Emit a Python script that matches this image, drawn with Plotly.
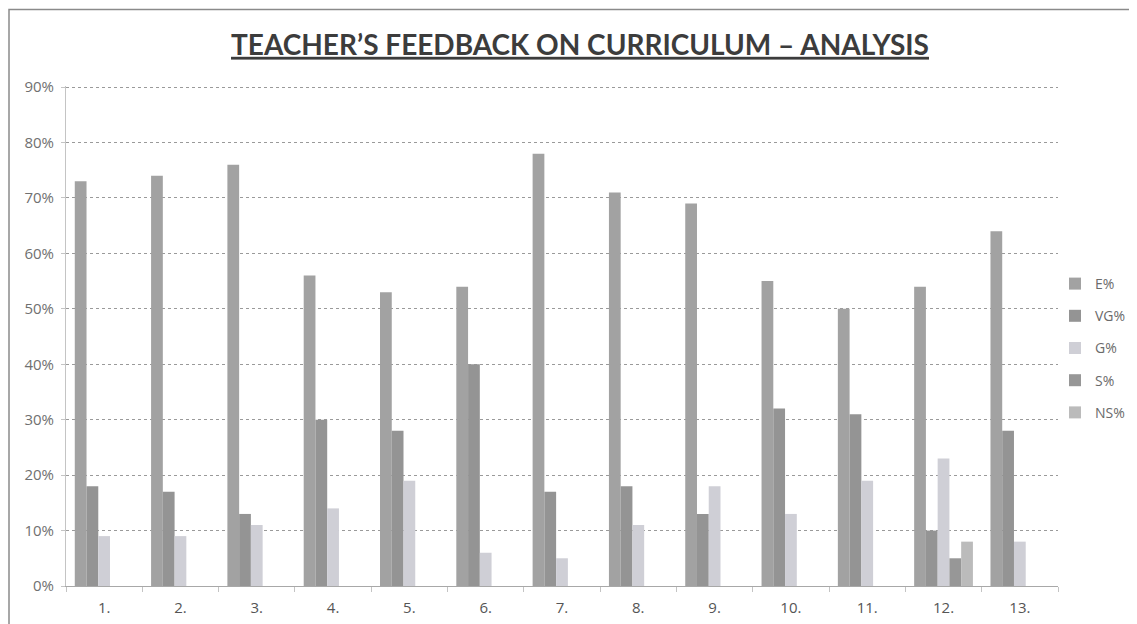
import plotly.graph_objects as go

categories = ["1.", "2.", "3.", "4.", "5.", "6.", "7.", "8.", "9.", "10.", "11.", "12.", "13."]
e_pct = [73, 74, 76, 56, 53, 54, 78, 71, 69, 55, 50, 54, 64]
vg_pct = [18, 17, 13, 30, 28, 40, 17, 18, 13, 32, 31, 10, 28]
g_pct = [9, 9, 11, 14, 19, 6, 5, 11, 18, 13, 19, 23, 8]
s_pct = [0, 0, 0, 0, 0, 0, 0, 0, 0, 0, 0, 5, 0]
ns_pct = [0, 0, 0, 0, 0, 0, 0, 0, 0, 0, 0, 8, 0]
series_names = ["E%", "VG%", "G%", "S%", "NS%"]
series_values = [e_pct, vg_pct, g_pct, s_pct, ns_pct]
colors = ["#a2a2a2", "#949494", "#cfcfd6", "#979797", "#bbbbbb"]

fig = go.Figure()
for name, vals, col in zip(series_names, series_values, colors):
    fig.add_trace(go.Bar(
        x=categories, y=[v / 100 for v in vals], name=name,
        marker=dict(color=col, line=dict(width=0)),
        legendgroup=name,
    ))

# the page body adds an 8px offset; figure coordinates below = screen - 8
W, H = 1137, 624
L, R, T, B = 58, 87, 78, 46
pw, ph = W - L - R, H - T - B

def px(x):
    return (x - L) / pw

def py(y):
    return (H - B - y) / ph

fig.add_shape(type="rect", xref="paper", yref="paper",
              x0=px(1), x1=px(1150), y0=py(650), y1=py(1.5),
              line=dict(color="#8a8a8a", width=1.5), fillcolor="rgba(0,0,0,0)",
              layer="below")

fig.update_layout(
    width=W, height=H,
    margin=dict(l=L, r=R, t=T, b=B),
    paper_bgcolor="white", plot_bgcolor="white",
    barmode="group", bargap=0.23, bargroupgap=0,
    font=dict(family="Open Sans, Lato, sans-serif", color="#6a6a6a", size=15),
    title=dict(text="<b><u>TEACHER\u2019S FEEDBACK ON CURRICULUM \u2013 ANALYSIS</u></b>",
               x=572 / W, xanchor="center", xref="container",
               y=1 - 37 / H, yanchor="middle", yref="container",
               font=dict(family="Lato, Open Sans, sans-serif", size=28, color="#3c3c3c")),
    legend=dict(x=px(1047), xanchor="left", xref="paper",
                y=py(260), yanchor="top", yref="paper",
                traceorder="grouped", tracegroupgap=11,
                font=dict(size=14, color="#6a6a6a"), itemwidth=30,
                bgcolor="rgba(0,0,0,0)"),
    showlegend=True,
)
fig.update_yaxes(range=[0, 0.902], tickformat=".0%", tickvals=[i / 10 for i in range(10)],
                 showgrid=True, gridcolor="#9a9a9a", griddash="dot", gridwidth=1,
                 showline=True, linecolor="#c4c4c4", ticks="outside", ticklen=4,
                 tickcolor="#c4c4c4", zeroline=False, fixedrange=True,
                 ticklabelstandoff=4,
                 tickfont=dict(size=15, color="#707070"))
fig.update_xaxes(showline=True, linecolor="#a8a8a8", ticks="outside", ticklen=5,
                 tickcolor="#c4c4c4", tickson="boundaries", ticklabelstandoff=8,
                 tickfont=dict(size=15, color="#555555"))

fig.write_html("out.html")
